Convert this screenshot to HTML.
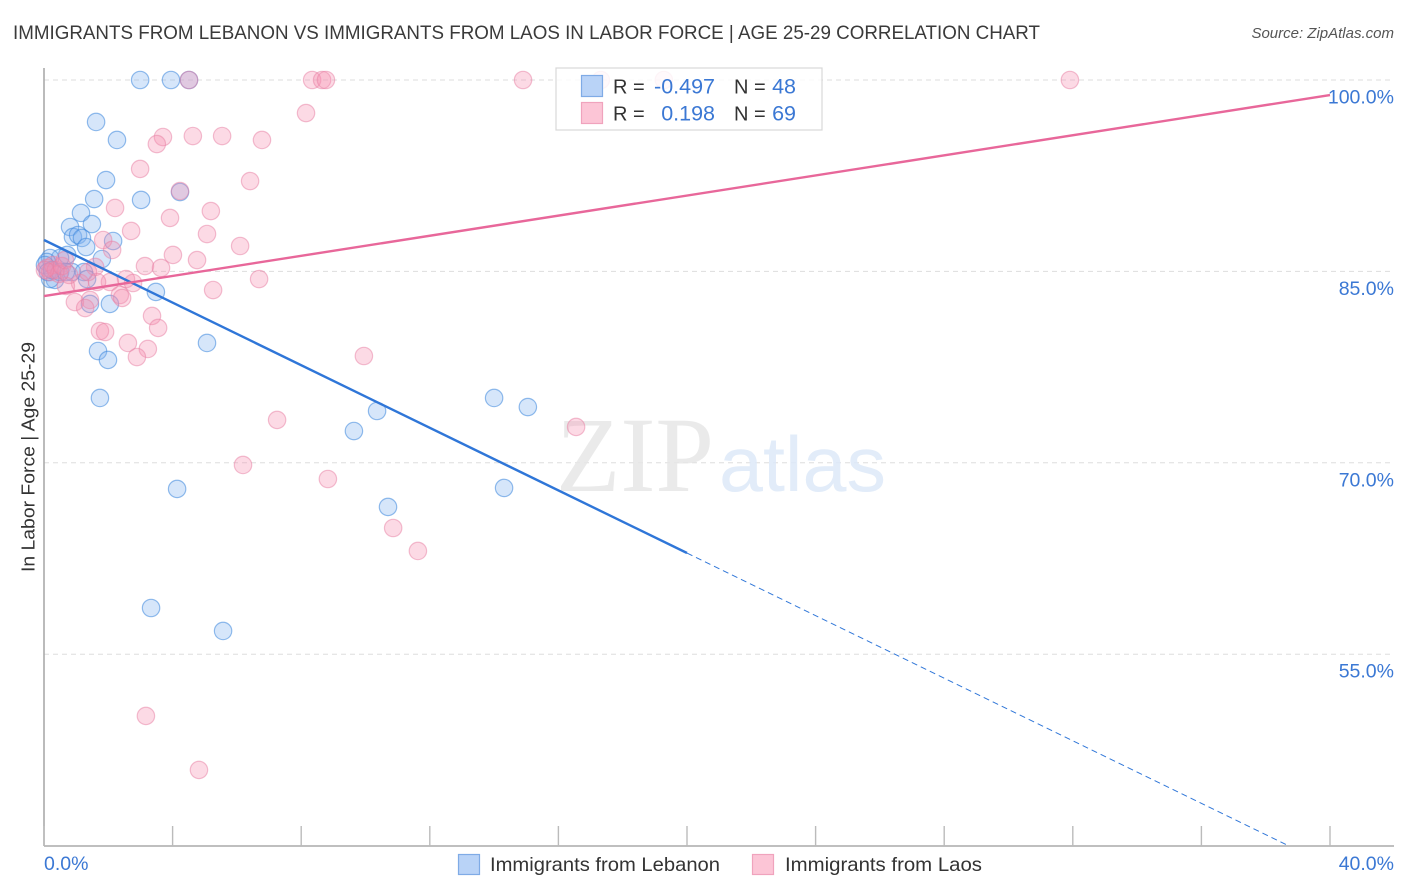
<!DOCTYPE html>
<html lang="en">
<head>
<meta charset="utf-8">
<title>Immigrants from Lebanon vs Immigrants from Laos in Labor Force</title>
<style>
html,body{margin:0;padding:0;background:#fff;width:1406px;height:892px;overflow:hidden}
svg{display:block;font-family:"Liberation Sans",sans-serif}
</style>
</head>
<body>
<svg id="chart" width="1406" height="892" viewBox="0 0 1406 892">
  <text x="13" y="39" font-size="19.5" fill="#3a3a3a" textLength="1027" lengthAdjust="spacingAndGlyphs">IMMIGRANTS FROM LEBANON VS IMMIGRANTS FROM LAOS IN LABOR FORCE | AGE 25-29 CORRELATION CHART</text>
  <text x="1394" y="38" font-size="15" font-style="italic" fill="#555" text-anchor="end">Source: ZipAtlas.com</text>
  <g id="grid"></g>
  <g>
    <text x="556" y="491" font-family="'Liberation Serif',serif" font-size="107" fill="#e6e6e6" fill-opacity="0.85" textLength="158" lengthAdjust="spacingAndGlyphs">ZIP</text>
    <text x="719" y="491" font-size="78" fill="#dde9f8" fill-opacity="0.85" textLength="167" lengthAdjust="spacingAndGlyphs">atlas</text>
  </g>
  <g id="axes">
    <line x1="44" y1="68" x2="44" y2="846" stroke="#aaa" stroke-width="1.6"></line>
    <line x1="44" y1="846" x2="1394" y2="846" stroke="#aaa" stroke-width="1.6"></line>
  </g>
  <text transform="translate(34.5,457) rotate(-90)" font-size="18.5" fill="#333" text-anchor="middle" textLength="230" lengthAdjust="spacingAndGlyphs">In Labor Force | Age 25-29</text>
  <g id="points"></g>
  <g id="trends"></g>
  <g>
    <rect x="556" y="68" width="266" height="62" fill="#fff" fill-opacity="0.84" stroke="#d8d8d8" stroke-width="1.2"></rect>
    <rect x="581.5" y="75.5" width="21" height="21" fill="#b9d3f7" stroke="#7fabe6" stroke-width="1.2"></rect>
    <rect x="581.5" y="102.5" width="21" height="21" fill="#fcc5d6" stroke="#f0a3bd" stroke-width="1.2"></rect>
    <text x="613" y="93.5" font-size="20" fill="#333">R =</text>
    <text x="715" y="93.5" font-size="21.5" fill="#3b78d4" text-anchor="end">-0.497</text>
    <text x="734" y="93.5" font-size="20" fill="#333">N =</text>
    <text x="796" y="93.5" font-size="21.5" fill="#3b78d4" text-anchor="end">48</text>
    <text x="613" y="120.5" font-size="20" fill="#333">R =</text>
    <text x="715" y="120.5" font-size="21.5" fill="#3b78d4" text-anchor="end">0.198</text>
    <text x="734" y="120.5" font-size="20" fill="#333">N =</text>
    <text x="796" y="120.5" font-size="21.5" fill="#3b78d4" text-anchor="end">69</text>
  </g>
  <g>
    <rect x="458.5" y="854.5" width="21" height="20" fill="#b9d3f7" stroke="#7fabe6" stroke-width="1.2"></rect>
    <text x="490" y="871" font-size="19.5" fill="#333" textLength="230" lengthAdjust="spacingAndGlyphs">Immigrants from Lebanon</text>
    <rect x="752.5" y="854.5" width="21" height="20" fill="#fcc5d6" stroke="#f0a3bd" stroke-width="1.2"></rect>
    <text x="785" y="871" font-size="19.5" fill="#333" textLength="197" lengthAdjust="spacingAndGlyphs">Immigrants from Laos</text>
  </g>
</svg>
<script>
const yTickValues = [100, 85, 70, 55];
const yTickLabels = ["100.0%", "85.0%", "70.0%", "55.0%"];
const xTickValues = [0, 4, 8, 12, 16, 20, 24, 28, 32, 36, 40];
const xEdgeValues = [0, 40];
const xEdgeLabels = ["0.0%", "40.0%"];

const lebanonX = [2.99,3.95,4.51,1.62,2.27,1.93,4.23,3.02,1.56,1.15,0.81,1.49,0.90,1.06,1.18,2.15,1.31,1.80,0.72,0.50,0.19,0.09,0.03,0.34,0.19,0.12,0.25,0.50,0.87,1.24,0.68,1.34,3.48,2.05,1.43,5.07,1.68,1.99,1.74,14.00,15.05,10.36,9.64,4.14,14.31,10.70,3.33,5.57];
const lebanonY = [100,100,100,96.71,95.30,92.16,91.22,90.60,90.67,89.58,88.48,88.71,87.70,87.85,87.62,87.38,86.91,85.97,86.29,86.05,86.05,85.74,85.50,84.33,84.40,84.95,85.11,84.95,84.95,84.95,84.95,84.40,83.39,82.45,82.45,79.39,78.76,78.06,75.08,75.08,74.37,74.06,72.49,67.95,68.03,66.54,58.62,56.82];

const laosX = [4.51,8.34,8.65,8.77,14.90,17.32,19.28,31.91,8.15,3.70,3.51,4.63,5.54,6.78,2.99,6.41,4.23,5.19,2.21,3.92,2.71,5.07,1.84,6.10,2.12,4.01,4.76,3.14,3.64,1.59,6.69,5.26,2.55,2.77,2.05,1.65,1.12,0.68,2.36,2.43,1.43,0.96,1.28,3.36,3.55,1.74,1.90,2.61,3.23,2.89,9.95,7.25,16.55,6.19,8.83,10.86,11.63,3.17,4.82,0.09,0.19,0.28,0.37,0.47,0.56,0.65,0.78,0.03,1.37];
const laosY = [100,100,100,100,100,100,100,100,97.41,95.53,94.98,95.61,95.61,95.30,93.03,92.08,91.30,89.73,89.97,89.19,88.17,87.93,87.46,86.99,86.68,86.29,85.89,85.42,85.27,85.35,84.40,83.54,84.40,84.09,84.17,84.17,84.09,83.86,83.15,82.92,82.76,82.60,82.13,81.51,80.57,80.33,80.25,79.39,78.92,78.29,78.37,73.36,72.81,69.83,68.73,64.89,63.09,50.16,45.93,85.27,84.95,85.50,85.11,84.80,85.42,85.89,84.72,85.11,84.95];

const lebanonTrendX = [0, 20];
const lebanonTrendY = [87.46, 62.93];
const lebanonDashX = [20, 38.7];
const lebanonDashY = [62.93, 40.0];
const laosTrendX = [0, 40];
const laosTrendY = [83.07, 98.82];

const NS = "http://www.w3.org/2000/svg";
function xScale(v) { return 44 + v * 32.15; }
function yScale(v) { return 80 + (100 - v) * 12.76; }
function make(parent, tag, attrs) {
  const el = document.createElementNS(NS, tag);
  for (const k in attrs) el.setAttribute(k, attrs[k]);
  parent.appendChild(el);
  return el;
}

const gridG = document.getElementById("grid");
yTickValues.forEach(function (v, i) {
  const gl = make(gridG, "line", {x1: 44, x2: 1394, y1: yScale(v), y2: yScale(v), stroke: "#dddddd", "stroke-width": 1, "stroke-dasharray": "5 4"});
  
  
  const lb = make(gridG, "text", {x: 1394, y: yScale(v) + 23.5, "font-size": 19.5, fill: "#3b78d4", "text-anchor": "end"});
  
  
  lb.textContent = yTickLabels[i];
});

const axesG = document.getElementById("axes");
xTickValues.forEach(function (v) {
  const t = make(axesG, "line", {x1: xScale(v), x2: xScale(v), y1: 826, y2: 846, stroke: "#bbb", "stroke-width": 1.4});
  
  
});
xEdgeValues.forEach(function (v, i) {
  const lb = make(axesG, "text", {x: i === 0 ? xScale(v) : 1394, y: 870, "font-size": 19.5, fill: "#3b78d4", "text-anchor": i === 0 ? "start" : "end"});
  
  
  lb.textContent = xEdgeLabels[i];
});

const pointsG = document.getElementById("points");
lebanonX.forEach(function (v, i) {
  const c = make(pointsG, "circle", {cx: xScale(v), cy: yScale(lebanonY[i]), r: 8.7, fill: "#7fb0f0", "fill-opacity": 0.32, stroke: "#3d86dc", "stroke-opacity": 0.55, "stroke-width": 1.2});
  
  
});
laosX.forEach(function (v, i) {
  const c = make(pointsG, "circle", {cx: xScale(v), cy: yScale(laosY[i]), r: 8.7, fill: "#f590b0", "fill-opacity": 0.33, stroke: "#e77fa3", "stroke-opacity": 0.5, "stroke-width": 1.2});
  
  
});

const trendsG = document.getElementById("trends");
const blueLine = make(trendsG, "line", {x1: xScale(lebanonTrendX[0]), y1: yScale(lebanonTrendY[0]), x2: xScale(lebanonTrendX[1]), y2: yScale(lebanonTrendY[1]), stroke: "#2f76d8", "stroke-width": 2.4});


const blueDash = make(trendsG, "line", {x1: xScale(lebanonDashX[0]), y1: yScale(lebanonDashY[0]), x2: xScale(lebanonDashX[1]), y2: yScale(lebanonDashY[1]), stroke: "#2f76d8", "stroke-width": 1, "stroke-dasharray": "6 4"});


const pinkLine = make(trendsG, "line", {x1: xScale(laosTrendX[0]), y1: yScale(laosTrendY[0]), x2: xScale(laosTrendX[1]), y2: yScale(laosTrendY[1]), stroke: "#e8679a", "stroke-width": 2.4});


</script>
</body>
</html>
